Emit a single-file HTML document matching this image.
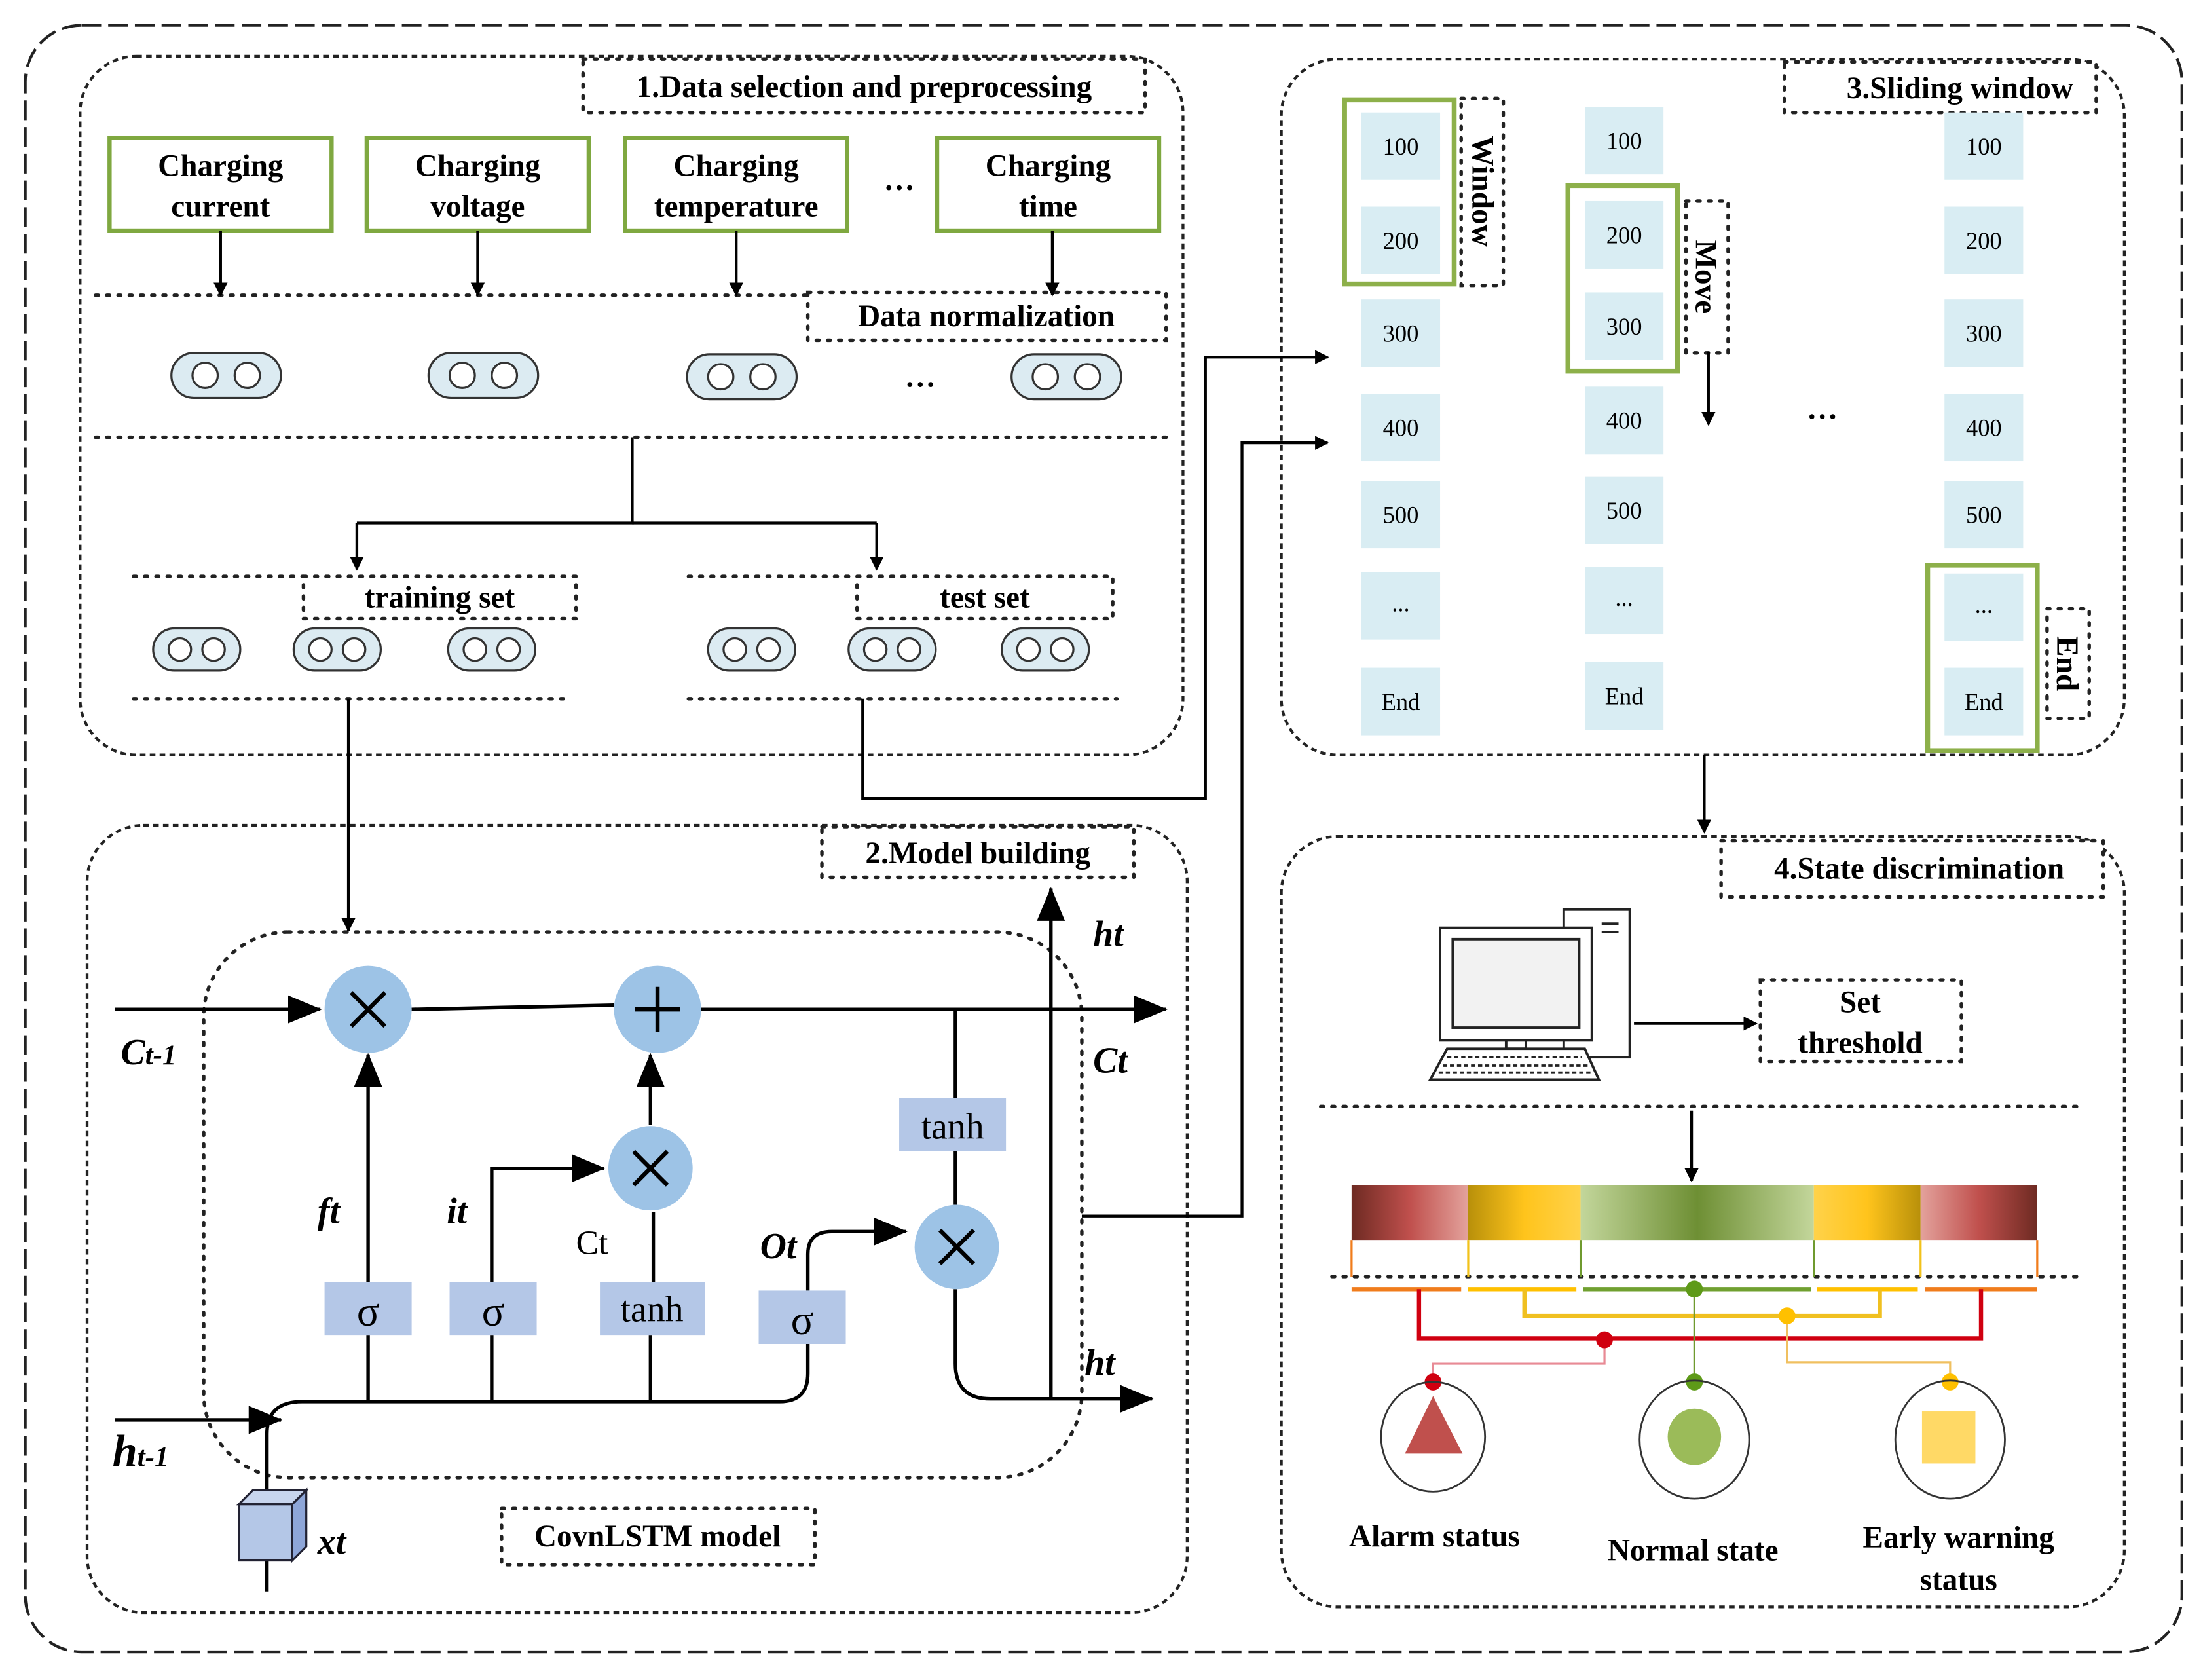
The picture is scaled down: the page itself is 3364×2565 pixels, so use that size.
<!DOCTYPE html>
<html><head><meta charset="utf-8"><style>
html,body{margin:0;padding:0;background:#fff}
svg{display:block}
text{font-family:"Liberation Serif",serif}
.b{font-weight:bold;font-size:22px}
.n{font-size:17px;font-family:"Liberation Serif",serif}
</style></head><body>
<svg width="3364" height="2565" viewBox="0 0 1568 1195" preserveAspectRatio="none" xmlns="http://www.w3.org/2000/svg">
<defs>
<marker id="a" markerWidth="10" markerHeight="10" refX="9" refY="5" orient="auto" markerUnits="userSpaceOnUse" viewBox="0 0 10 10"><path d="M0,0 L10,5 L0,10z" fill="#000"/></marker>
<marker id="A" markerWidth="24" markerHeight="20" refX="23" refY="10" orient="auto" markerUnits="userSpaceOnUse"><path d="M0,0 L24,10 L0,20z" fill="#000"/></marker>
<linearGradient id="gr1" x1="0" x2="1"><stop offset="0" stop-color="#6e2a22"/><stop offset="0.5" stop-color="#c0504d"/><stop offset="1" stop-color="#e3a29c"/></linearGradient>
<linearGradient id="gr2" x1="0" x2="1"><stop offset="0" stop-color="#b8900a"/><stop offset="0.5" stop-color="#ffc41c"/><stop offset="1" stop-color="#ffd24a"/></linearGradient>
<linearGradient id="gg" x1="0" x2="1"><stop offset="0" stop-color="#c3d69b"/><stop offset="0.5" stop-color="#6e8f34"/><stop offset="1" stop-color="#c3d69b"/></linearGradient>
<linearGradient id="gr3" x1="0" x2="1"><stop offset="0" stop-color="#ffd24a"/><stop offset="0.5" stop-color="#ffc41c"/><stop offset="1" stop-color="#b8900a"/></linearGradient>
<linearGradient id="gr4" x1="0" x2="1"><stop offset="0" stop-color="#e3a29c"/><stop offset="0.5" stop-color="#c0504d"/><stop offset="1" stop-color="#6e2a22"/></linearGradient>
</defs>
<g fill="none" stroke="#222">
<rect x="18" y="18" width="1535" height="1157" rx="40" stroke-width="2" stroke-dasharray="14 5"/>
<rect x="57" y="40" width="785" height="497" rx="40" stroke-width="2" stroke-dasharray="4 3"/>
<rect x="62" y="587" width="783" height="560" rx="40" stroke-width="2" stroke-dasharray="4 3"/>
<rect x="912" y="42" width="600" height="495" rx="40" stroke-width="2" stroke-dasharray="4 3"/>
<rect x="912" y="595" width="600" height="548" rx="40" stroke-width="2" stroke-dasharray="4 3"/>
<g stroke-width="2.5" stroke-dasharray="2 6" stroke-linecap="round">
<rect x="415" y="42" width="400" height="38" fill="#fff"/>
<rect x="575" y="208" width="255" height="34" fill="#fff"/>
<rect x="216" y="410" width="194" height="30" fill="#fff"/>
<rect x="610" y="410" width="182" height="30" fill="#fff"/>
<rect x="585" y="588" width="222" height="36" fill="#fff"/>
<rect x="357" y="1073" width="223" height="40"/>
<rect x="1270" y="44" width="222" height="36" fill="#fff"/>
<rect x="1225" y="598" width="272" height="40" fill="#fff"/>
<rect x="1253" y="697" width="143" height="58"/>
<rect x="1040" y="70" width="30" height="133"/>
<rect x="1200" y="143" width="30" height="108"/>
<rect x="1457" y="433" width="30" height="78"/>
<line x1="68" y1="210" x2="575" y2="210"/>
<line x1="68" y1="311" x2="830" y2="311"/>
<line x1="95" y1="410" x2="216" y2="410"/><line x1="490" y1="410" x2="610" y2="410"/>
<line x1="95" y1="497" x2="405" y2="497"/><line x1="490" y1="497" x2="795" y2="497"/>
<rect x="145" y="663" width="625" height="388" rx="60"/>
<line x1="940" y1="787" x2="1480" y2="787"/>
<line x1="948" y1="908" x2="1478" y2="908"/>
</g>
</g>
<g class="b" text-anchor="middle">
<text x="615" y="69">1.Data selection and preprocessing</text>
<text x="702" y="232">Data normalization</text>
<text x="313" y="432">training set</text>
<text x="701" y="432">test set</text>
<text x="696" y="614">2.Model building</text>
<text x="468" y="1100">CovnLSTM model</text>
<text x="1395" y="70">3.Sliding window</text>
<text x="1366" y="625">4.State discrimination</text>
<text x="1324" y="720">Set</text><text x="1324" y="749">threshold</text>
<text x="1021" y="1100">Alarm status</text>
<text x="1205" y="1110">Normal state</text>
<text x="1394" y="1101">Early warning</text><text x="1394" y="1131">status</text>
<text transform="translate(1048,136) rotate(90)">Window</text>
<text transform="translate(1207,197) rotate(90)">Move</text>
<text transform="translate(1464,472) rotate(90)">End</text>
</g>
<g fill="#fff" stroke="#7fa840" stroke-width="3">
<rect x="78" y="98" width="158" height="66"/><rect x="261" y="98" width="158" height="66"/>
<rect x="445" y="98" width="158" height="66"/><rect x="667" y="98" width="158" height="66"/>
</g>
<g class="b" text-anchor="middle">
<text x="157" y="125">Charging</text><text x="157" y="154">current</text>
<text x="340" y="125">Charging</text><text x="340" y="154">voltage</text>
<text x="524" y="125">Charging</text><text x="524" y="154">temperature</text>
<text x="746" y="125">Charging</text><text x="746" y="154">time</text>
<text x="640" y="135">…</text><text x="655" y="275">…</text><text x="1297" y="298">…</text>
</g>
<g stroke="#000" stroke-width="2" fill="none" marker-end="url(#a)">
<line x1="157" y1="164" x2="157" y2="210"/><line x1="340" y1="164" x2="340" y2="210"/>
<line x1="524" y1="164" x2="524" y2="210"/><line x1="749" y1="164" x2="749" y2="210"/>
<line x1="254" y1="372" x2="254" y2="405"/><line x1="624" y1="372" x2="624" y2="405"/>
<line x1="248" y1="497" x2="248" y2="662"/>
<polyline points="614,497 614,568 858,568 858,254 945,254"/>
<polyline points="770,865 884,865 884,315 945,315"/>
<line x1="1216" y1="250" x2="1216" y2="302"/>
<line x1="1213" y1="537" x2="1213" y2="592"/>
<line x1="1163" y1="728" x2="1250" y2="728"/>
<line x1="1204" y1="790" x2="1204" y2="840"/>
</g>
<g stroke="#000" stroke-width="2" fill="none"><polyline points="450,311 450,372 254,372"/><line x1="450" y1="372" x2="624" y2="372"/></g>
<g fill="#dcebf2" stroke="#333" stroke-width="1.5">
<g transform="translate(161,267)"><rect x="-39" y="-16" width="78" height="32" rx="16"/><circle cx="-15" r="9" fill="#fff"/><circle cx="15" r="9" fill="#fff"/></g>
<g transform="translate(344,267)"><rect x="-39" y="-16" width="78" height="32" rx="16"/><circle cx="-15" r="9" fill="#fff"/><circle cx="15" r="9" fill="#fff"/></g>
<g transform="translate(528,268)"><rect x="-39" y="-16" width="78" height="32" rx="16"/><circle cx="-15" r="9" fill="#fff"/><circle cx="15" r="9" fill="#fff"/></g>
<g transform="translate(759,268)"><rect x="-39" y="-16" width="78" height="32" rx="16"/><circle cx="-15" r="9" fill="#fff"/><circle cx="15" r="9" fill="#fff"/></g>
<g transform="translate(140,462)"><rect x="-31" y="-15" width="62" height="30" rx="15"/><circle cx="-12" r="8" fill="#fff"/><circle cx="12" r="8" fill="#fff"/></g>
<g transform="translate(240,462)"><rect x="-31" y="-15" width="62" height="30" rx="15"/><circle cx="-12" r="8" fill="#fff"/><circle cx="12" r="8" fill="#fff"/></g>
<g transform="translate(350,462)"><rect x="-31" y="-15" width="62" height="30" rx="15"/><circle cx="-12" r="8" fill="#fff"/><circle cx="12" r="8" fill="#fff"/></g>
<g transform="translate(535,462)"><rect x="-31" y="-15" width="62" height="30" rx="15"/><circle cx="-12" r="8" fill="#fff"/><circle cx="12" r="8" fill="#fff"/></g>
<g transform="translate(635,462)"><rect x="-31" y="-15" width="62" height="30" rx="15"/><circle cx="-12" r="8" fill="#fff"/><circle cx="12" r="8" fill="#fff"/></g>
<g transform="translate(744,462)"><rect x="-31" y="-15" width="62" height="30" rx="15"/><circle cx="-12" r="8" fill="#fff"/><circle cx="12" r="8" fill="#fff"/></g>
</g>
<g stroke="#000" stroke-width="2.5" fill="none">
<line x1="82" y1="718" x2="228" y2="718" marker-end="url(#A)"/>
<line x1="293" y1="718" x2="437" y2="715"/>
<line x1="499" y1="718" x2="830" y2="718" marker-end="url(#A)"/>
<line x1="748" y1="995" x2="748" y2="632" marker-end="url(#A)"/>
<line x1="262" y1="912" x2="262" y2="750" marker-end="url(#A)"/>
<polyline points="350,912 350,831 430,831" marker-end="url(#A)"/>
<line x1="465" y1="912" x2="465" y2="862"/>
<line x1="463" y1="800" x2="463" y2="750" marker-end="url(#A)"/>
<path d="M575,918 V892 Q575,876 592,876 H645" marker-end="url(#A)"/>
<line x1="680" y1="718" x2="680" y2="781"/><line x1="680" y1="819" x2="680" y2="857"/>
<path d="M680,917 V970 Q680,995 705,995 H820" marker-end="url(#A)"/>
<line x1="82" y1="1010" x2="200" y2="1010" marker-end="url(#A)"/>
<path d="M190,1132 V1020 Q190,997 215,997 H555 Q575,997 575,977 V955"/>
<line x1="262" y1="997" x2="262" y2="950"/><line x1="350" y1="997" x2="350" y2="950"/><line x1="463" y1="997" x2="463" y2="950"/>
</g>
<g fill="#9dc3e6">
<circle cx="262" cy="718" r="31"/><circle cx="468" cy="718" r="31"/><circle cx="463" cy="831" r="30"/><circle cx="681" cy="887" r="30"/>
</g>
<g stroke="#000" stroke-width="3">
<path d="M250,706 L274,730 M274,706 L250,730"/><path d="M451,819 L475,843 M475,819 L451,843"/><path d="M669,875 L693,899 M693,875 L669,899"/>
<path d="M468,702 V734 M452,718 H484"/>
</g>
<g fill="#b4c7e7">
<rect x="231" y="912" width="62" height="38"/><rect x="320" y="912" width="62" height="38"/>
<rect x="427" y="912" width="75" height="38"/><rect x="540" y="918" width="62" height="38"/>
<rect x="640" y="781" width="76" height="38"/>
</g>
<g font-size="30" text-anchor="middle" fill="#000" style="font-family:'DejaVu Sans',sans-serif">
<text x="262" y="943">σ</text><text x="351" y="943">σ</text><text x="571" y="949">σ</text>
</g>
<g font-size="26" text-anchor="middle"><text x="464" y="940">tanh</text><text x="678" y="810">tanh</text></g>
<g font-size="26" font-style="italic" font-weight="bold">
<text x="86" y="757">C<tspan font-size="20">t-1</tspan></text>
<text x="80" y="1043" font-size="32">h<tspan font-size="20">t-1</tspan></text>
<text x="778" y="673">ht</text><text x="778" y="763">Ct</text><text x="772" y="978">ht</text>
<text x="226" y="870">ft</text><text x="318" y="870">it</text><text x="541" y="895">Ot</text>
<text x="226" y="1105">xt</text>
</g>
<text x="410" y="892" font-size="24">Ct</text>
<g stroke="#223" stroke-width="1.5">
<path d="M170,1070 L180,1060 L218,1060 L208,1070z" fill="#c8d5ee"/>
<path d="M208,1070 L218,1060 L218,1100 L208,1110z" fill="#8ea6d8"/>
<rect x="170" y="1070" width="38" height="40" fill="#b4c7e7"/>
</g>
<g fill="#d9edf3">
<rect x="969" y="80" width="56" height="48"/><rect x="969" y="147" width="56" height="48"/><rect x="969" y="213" width="56" height="48"/><rect x="969" y="280" width="56" height="48"/><rect x="969" y="342" width="56" height="48"/><rect x="969" y="407" width="56" height="48"/><rect x="969" y="475" width="56" height="48"/>
<rect x="1128" y="76" width="56" height="48"/><rect x="1128" y="143" width="56" height="48"/><rect x="1128" y="208" width="56" height="48"/><rect x="1128" y="275" width="56" height="48"/><rect x="1128" y="339" width="56" height="48"/><rect x="1128" y="403" width="56" height="48"/><rect x="1128" y="471" width="56" height="48"/>
<rect x="1384" y="80" width="56" height="48"/><rect x="1384" y="147" width="56" height="48"/><rect x="1384" y="213" width="56" height="48"/><rect x="1384" y="280" width="56" height="48"/><rect x="1384" y="342" width="56" height="48"/><rect x="1384" y="408" width="56" height="48"/><rect x="1384" y="475" width="56" height="48"/>
</g>
<g class="n" text-anchor="middle">
<text x="997" y="110">100</text><text x="997" y="177">200</text><text x="997" y="243">300</text><text x="997" y="310">400</text><text x="997" y="372">500</text><text x="997" y="435">...</text><text x="997" y="505">End</text>
<text x="1156" y="106">100</text><text x="1156" y="173">200</text><text x="1156" y="238">300</text><text x="1156" y="305">400</text><text x="1156" y="369">500</text><text x="1156" y="431">...</text><text x="1156" y="501">End</text>
<text x="1412" y="110">100</text><text x="1412" y="177">200</text><text x="1412" y="243">300</text><text x="1412" y="310">400</text><text x="1412" y="372">500</text><text x="1412" y="436">...</text><text x="1412" y="505">End</text>
</g>
<g fill="none" stroke="#8db04a" stroke-width="3.5">
<rect x="957" y="71" width="78" height="131"/><rect x="1116" y="132" width="78" height="132"/><rect x="1372" y="402" width="78" height="132"/>
</g>
<g stroke="#222" stroke-width="1.8" fill="#fff">
<rect x="1113" y="647" width="47" height="105"/>
<path d="M1140,657 h12 M1140,663 h12"/>
<rect x="1025" y="660" width="108" height="80"/>
<rect x="1034" y="668" width="90" height="63" fill="#f2f2f2"/>
<rect x="1072" y="740" width="14" height="6"/>
<path d="M1030,746 H1128 L1138,768 H1018z"/>
<path d="M1030,752 H1126 M1027,758 H1130 M1024,763 H1133" stroke-dasharray="3 2"/>
</g>
<rect x="962" y="843" width="83" height="39" fill="url(#gr1)"/>
<rect x="1045" y="843" width="80" height="39" fill="url(#gr2)"/>
<rect x="1125" y="843" width="166" height="39" fill="url(#gg)"/>
<rect x="1291" y="843" width="76" height="39" fill="url(#gr3)"/>
<rect x="1367" y="843" width="83" height="39" fill="url(#gr4)"/>
<g stroke-width="1.5">
<line x1="962" y1="882" x2="962" y2="908" stroke="#f07c1c"/><line x1="1045" y1="882" x2="1045" y2="908" stroke="#f2c21b"/>
<line x1="1125" y1="882" x2="1125" y2="908" stroke="#6f9a2f"/><line x1="1291" y1="882" x2="1291" y2="908" stroke="#6f9a2f"/>
<line x1="1367" y1="882" x2="1367" y2="908" stroke="#f2c21b"/><line x1="1450" y1="882" x2="1450" y2="908" stroke="#f07c1c"/>
</g>
<g stroke-width="3">
<line x1="962" y1="917" x2="1040" y2="917" stroke="#f07c1c"/><line x1="1045" y1="917" x2="1122" y2="917" stroke="#ffc000"/>
<line x1="1127" y1="917" x2="1289" y2="917" stroke="#70a030"/><line x1="1293" y1="917" x2="1365" y2="917" stroke="#ffc000"/>
<line x1="1370" y1="917" x2="1450" y2="917" stroke="#f07c1c"/>
</g>
<g fill="none">
<polyline points="1010,917 1010,952 1410,952 1410,917" stroke="#d00010" stroke-width="3"/>
<polyline points="1085,917 1085,936 1338,936 1338,917" stroke="#f0c020" stroke-width="3"/>
<line x1="1206" y1="917" x2="1206" y2="983" stroke="#6f9a2f" stroke-width="1.5"/>
<polyline points="1142,952 1142,970 1020,970 1020,983" stroke="#e88a95" stroke-width="1.5"/>
<polyline points="1272,936 1272,969 1388,969 1388,983" stroke="#f0c060" stroke-width="1.5"/>
</g>
<g>
<circle cx="1206" cy="917" r="6" fill="#5e9a18"/><circle cx="1272" cy="936" r="6" fill="#ffc000"/><circle cx="1142" cy="953" r="6" fill="#d00010"/>
<circle cx="1020" cy="983" r="6" fill="#d00010"/><circle cx="1206" cy="983" r="6" fill="#5e9a18"/><circle cx="1388" cy="983" r="6" fill="#ffc000"/>
</g>
<g fill="none" stroke="#333" stroke-width="1.3">
<ellipse cx="1020" cy="1022" rx="37" ry="39"/><ellipse cx="1206" cy="1024" rx="39" ry="42"/><ellipse cx="1388" cy="1024" rx="39" ry="42"/>
</g>
<path d="M1020,993 L1041,1034 L1000,1034z" fill="#c0504d"/>
<ellipse cx="1206" cy="1022" rx="19" ry="20" fill="#9bbb59"/>
<rect x="1368" y="1004" width="38" height="37" fill="#ffd966"/>
</svg>
</body></html>
